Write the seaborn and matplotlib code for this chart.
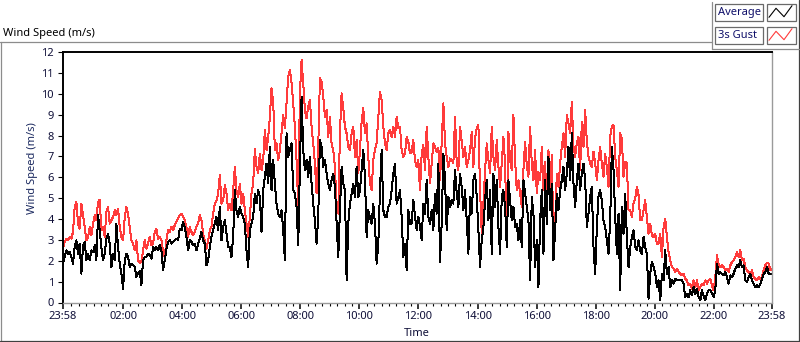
import numpy as np
import matplotlib
matplotlib.use("Agg")
import matplotlib.pyplot as plt
from matplotlib.lines import Line2D
from matplotlib.patches import Rectangle
import seaborn as sns

# ---------------- data (wind speed, m/s) ----------------
# 3 s gust, 23:58 -> ~05:35
gust_a = [2.58, 2.90, 3.06, 2.98, 3.14, 3.06, 3.38, 4.58, 4.82, 3.78,
          3.54, 4.74, 4.18, 3.62, 2.98, 3.14, 3.62, 3.22, 3.78, 4.18,
          3.94, 4.82, 4.93, 3.46, 3.62, 3.14, 4.34, 4.58, 3.78, 3.94,
          4.10, 4.42, 4.18, 4.50, 3.62, 3.14, 2.98, 4.10, 4.58, 4.26,
          3.62, 2.98, 2.82, 2.50, 2.98, 2.02, 1.90, 2.00, 2.50, 2.98,
          2.58, 2.82, 3.14, 2.74, 2.82, 3.38, 3.54, 3.06, 3.14, 2.98,
          2.42, 2.18, 2.98, 3.46, 3.38, 3.62, 3.46, 3.70, 3.86, 4.02,
          4.18, 4.26, 4.10, 3.94, 3.62, 3.14, 3.62, 3.38, 3.22, 3.38,
          3.62, 3.78, 4.18, 3.94, 3.30, 2.98, 2.58, 2.98, 3.46, 3.62,
          4.26, 4.74, 4.90, 5.22, 6.10, 4.74, 4.90, 5.62, 5.22, 4.42]
# 3 s gust, ~05:35 -> ~11:58
gust_b = [4.74, 4.42, 5.38, 6.50, 5.38, 5.06, 5.70, 4.74, 5.22, 4.42,
          3.78, 3.14, 4.10, 5.22, 5.70, 7.34, 6.50, 6.18, 7.14, 6.34,
          6.82, 8.26, 7.30, 7.94, 8.90, 10.26, 9.62, 7.30, 7.62, 6.82,
          7.30, 8.10, 8.98, 8.34, 9.57, 10.82, 11.14, 10.50, 9.54, 8.42,
          6.82, 4.58, 10.02, 11.62, 10.50, 9.22, 8.82, 9.38, 9.70, 8.42,
          7.62, 6.66, 5.22, 7.46, 10.74, 10.58, 9.86, 8.90, 9.22, 7.94,
          8.90, 7.62, 7.30, 6.50, 4.58, 4.26, 8.10, 10.02, 9.30, 8.42,
          8.10, 7.46, 7.30, 8.10, 8.42, 6.98, 7.78, 6.18, 7.30, 8.66,
          9.30, 8.10, 8.58, 6.98, 5.70, 5.38, 6.82, 7.30, 7.62, 8.90,
          10.10, 9.70, 8.42, 7.62, 7.30, 8.10, 8.26, 7.94, 8.42, 7.94,
          8.90, 8.34, 8.42, 7.30, 6.98, 7.14, 7.94, 7.70, 7.14, 7.22,
          7.78, 6.82, 6.50, 6.82]
# 3 s gust, ~12:00 -> ~18:00
gust_c = [5.38, 7.14, 7.54, 6.34, 8.42, 6.98, 5.70, 6.66, 7.62, 7.46,
          7.22, 7.40, 5.86, 7.70, 9.54, 7.62, 6.98, 6.50, 6.90, 6.82,
          6.66, 8.90, 6.66, 6.34, 8.42, 7.70, 6.98, 7.46, 6.50, 6.82,
          7.30, 8.18, 6.50, 7.86, 8.34, 8.50, 5.38, 3.30, 4.74, 6.34,
          7.62, 6.82, 6.18, 8.42, 6.98, 6.34, 7.78, 6.50, 5.54, 6.66,
          7.94, 6.66, 2.98, 8.18, 6.82, 6.34, 8.98, 6.82, 5.38, 5.86,
          5.22, 4.58, 6.34, 7.70, 6.58, 6.02, 8.42, 6.66, 5.86, 7.30,
          5.22, 6.26, 5.86, 7.46, 5.38, 6.74, 4.26, 7.30, 5.38, 7.06,
          2.98, 3.78, 6.18, 5.54, 6.66, 7.46, 8.10, 6.98, 8.98, 8.58,
          8.10, 9.62, 7.46, 6.98, 7.62, 7.94, 6.34, 8.66, 7.46, 9.22,
          7.70, 6.98, 6.66, 6.50, 7.22, 6.66, 5.86, 6.82]
# 3 s gust, ~18:00 -> 23:58
gust_d = [7.46, 6.66, 6.02, 7.14, 6.50, 5.54, 7.94, 8.42, 8.50, 6.98,
          6.34, 5.54, 8.10, 7.86, 6.02, 6.74, 6.66, 4.42, 4.42, 4.10,
          4.74, 4.98, 5.54, 5.14, 3.94, 3.94, 4.42, 4.90, 4.10, 3.30,
          3.78, 3.22, 3.14, 3.30, 2.82, 2.82, 3.30, 2.18, 3.62, 4.02,
          3.14, 2.42, 2.02, 1.70, 1.62, 1.46, 1.62, 1.46, 1.38, 1.30,
          1.38, 1.14, 1.06, 0.82, 0.90, 0.66, 1.06, 0.74, 1.06, 0.58,
          0.74, 0.90, 0.82, 1.06, 0.90, 1.06, 1.14, 0.82, 0.58, 1.22,
          2.26, 1.86, 1.70, 1.78, 1.70, 1.54, 1.62, 1.46, 1.78, 1.94,
          2.02, 2.18, 2.42, 2.18, 2.50, 2.02, 2.10, 1.70, 1.54, 1.46,
          1.38, 1.54, 1.22, 1.14, 1.06, 1.22, 1.14, 1.22, 1.54, 1.78,
          1.90, 1.86, 1.54, 1.60]

# average, same time blocks
avg_a = [1.86, 2.18, 2.50, 2.34, 2.42, 2.18, 1.86, 2.66, 2.98, 2.34,
         2.82, 1.38, 2.74, 2.90, 2.02, 2.34, 2.02, 2.50, 2.42, 2.74,
         2.02, 4.18, 3.46, 2.66, 2.02, 2.34, 3.06, 3.30, 2.82, 1.70,
         2.34, 2.02, 3.78, 2.66, 1.86, 1.38, 0.66, 2.02, 2.34, 2.18,
         1.70, 1.86, 1.78, 1.70, 1.22, 1.38, 1.50, 0.82, 2.02, 2.18,
         2.18, 2.34, 2.26, 2.10, 2.66, 2.50, 2.66, 2.50, 2.74, 2.50,
         1.54, 2.02, 2.58, 2.90, 2.98, 2.82, 2.90, 2.98, 3.06, 2.98,
         3.54, 3.46, 3.86, 3.62, 3.14, 2.50, 2.98, 2.90, 2.74, 2.82,
         2.50, 2.82, 3.06, 3.38, 2.98, 2.82, 1.78, 2.02, 2.66, 3.14,
         3.46, 3.78, 4.10, 3.46, 4.58, 2.98, 3.62, 3.94, 3.30, 2.66]
avg_b = [2.66, 2.18, 3.14, 5.38, 4.42, 4.10, 4.58, 4.26, 4.10, 3.78,
         2.50, 1.70, 3.46, 3.78, 4.10, 5.22, 4.74, 5.38, 5.06, 3.38,
         5.38, 6.02, 6.66, 5.70, 7.46, 5.38, 6.82, 5.70, 4.74, 4.26,
         4.10, 4.42, 3.46, 2.02, 8.10, 6.98, 7.30, 7.62, 5.38, 5.22,
         4.58, 2.74, 6.50, 9.86, 7.30, 6.34, 6.82, 6.02, 6.98, 5.70,
         4.74, 3.94, 2.82, 4.10, 7.78, 7.46, 6.50, 6.82, 6.18, 5.70,
         5.38, 5.86, 6.18, 5.54, 3.90, 2.18, 4.42, 6.50, 5.70, 5.38,
         1.06, 3.78, 4.74, 5.22, 5.70, 5.06, 6.50, 5.06, 5.38, 6.34,
         7.30, 6.02, 3.14, 4.42, 4.10, 3.78, 4.74, 3.78, 1.86, 2.82,
         5.38, 7.30, 4.42, 4.10, 4.10, 4.58, 4.74, 5.38, 6.18, 6.66,
         4.74, 5.06, 5.38, 4.10, 2.18, 2.82, 1.54, 4.42, 3.78, 3.78,
         4.90, 4.10, 3.46, 4.10]
avg_c = [3.62, 2.98, 4.74, 4.26, 5.86, 4.10, 3.78, 4.42, 3.46, 5.22,
         4.26, 6.66, 1.94, 3.78, 7.14, 5.86, 3.46, 5.06, 4.58, 4.90,
         4.74, 6.34, 5.22, 4.58, 6.18, 5.54, 4.42, 5.38, 3.94, 2.34,
         5.06, 4.26, 5.86, 6.18, 5.06, 3.46, 1.70, 2.98, 3.62, 4.90,
         5.86, 3.94, 5.38, 2.34, 6.18, 4.58, 5.86, 3.62, 2.34, 5.06,
         5.38, 4.58, 2.66, 5.86, 4.90, 3.94, 4.58, 3.62, 3.78, 2.98,
         3.94, 2.66, 5.86, 5.22, 4.58, 3.94, 1.06, 5.06, 4.26, 1.70,
         2.98, 0.74, 3.94, 5.38, 2.34, 5.86, 3.78, 6.98, 4.42, 5.70,
         2.02, 3.46, 5.22, 4.42, 5.38, 5.86, 6.50, 5.38, 6.18, 7.46,
         5.86, 8.10, 5.70, 4.58, 5.86, 6.66, 5.38, 6.18, 6.66, 5.86,
         3.62, 4.26, 5.06, 5.54, 2.66, 1.38, 3.62, 5.06]
avg_d = [5.38, 4.90, 3.94, 3.62, 2.98, 2.34, 3.94, 7.46, 6.34, 4.10,
         2.34, 4.26, 0.58, 4.58, 3.30, 5.22, 3.14, 1.70, 2.66, 3.14,
         3.46, 2.66, 2.50, 2.98, 2.50, 2.34, 3.14, 2.66, 2.34, 0.18,
         1.38, 1.94, 1.70, 1.38, 0.74, 1.06, 0.10, 1.38, 1.06, 2.50,
         1.38, 1.70, 0.74, 1.06, 0.90, 1.14, 1.06, 1.06, 1.06, 1.06,
         0.90, 0.26, 0.42, 0.26, 0.58, 0.34, 0.74, 0.42, 0.66, 0.26,
         0.10, 0.58, 0.34, 0.10, 0.42, 0.58, 0.58, 0.42, 0.26, 0.58,
         1.86, 1.38, 1.46, 1.38, 1.30, 1.46, 1.22, 0.90, 1.30, 1.22,
         1.38, 1.62, 1.78, 1.70, 2.02, 1.70, 1.78, 1.06, 0.98, 1.22,
         1.38, 1.06, 0.90, 0.74, 0.82, 0.74, 0.90, 1.14, 1.38, 1.46,
         1.70, 1.38, 1.38, 1.38]

# axis ticks (minutes after the 23:58 start)
tick_minutes = [0, 122, 242, 362, 482, 602, 722, 842, 962, 1082, 1202, 1322, 1440]
tick_labels = ["23:58", "02:00", "04:00", "06:00", "08:00", "10:00", "12:00",
               "14:00", "16:00", "18:00", "20:00", "22:00", "23:58"]
y_ticks = list(range(0, 13))
series_names = ["Average", "3s Gust"]

# ---------------- figure ----------------
sns.set_style("white")
plt.rcParams['font.family'] = ['Noto Sans', 'DejaVu Sans']

W, H = 800, 342
fig = plt.figure(figsize=(W / 100, H / 100), dpi=100)
fig.patch.set_facecolor("white")


def fx(px):
    return px / W


def fy(py):
    return 1 - py / H


x0, x1, y_top, y_bot = 63, 772, 52, 302.5
ax = fig.add_axes([fx(x0), fy(y_bot), (x1 - x0) / W, (y_bot - y_top) / H])

gust = np.array(gust_a + gust_b + gust_c + gust_d)
avg = np.array(avg_a + avg_b + avg_c + avg_d)
t_gust = np.linspace(0, 1440, len(gust))
t_avg = np.linspace(0, 1440, len(avg))

RED = "#ff3b3b"
sns.lineplot(x=t_gust, y=gust, color=RED, lw=0.72, ax=ax, antialiased=False,
             estimator=None, sort=False, legend=False)
sns.lineplot(x=t_avg, y=avg, color="black", lw=0.72, ax=ax, antialiased=False,
             estimator=None, sort=False, legend=False)

ax.set_xlim(0, 1440)
ax.set_ylim(0, 12)
ax.set_xticks(tick_minutes)
ax.set_xticklabels(tick_labels)
ax.set_xticks(np.arange(17, 1440, 15), minor=True)
ax.set_yticks(y_ticks)
ax.set_yticklabels([str(v) for v in y_ticks])

TXT = "#0f0f38"
ax.tick_params(axis="x", which="major", bottom=True, direction="out",
               length=4.2, width=1.1, pad=2.0, labelsize=8, color="black",
               labelcolor=TXT)
ax.tick_params(axis="x", which="minor", bottom=True, direction="out",
               length=2.2, width=0.8, color="black")
ax.tick_params(axis="y", which="major", left=True, direction="out",
               length=3.6, width=0.8, pad=3.0, labelsize=8, color="black",
               labelcolor=TXT)

for side, col, lw in [("top", "black", 1.4), ("left", "black", 1.4),
                      ("right", "#9a9a9a", 1.0), ("bottom", "#9a9a9a", 1.0)]:
    ax.spines[side].set_visible(True)
    ax.spines[side].set_color(col)
    ax.spines[side].set_linewidth(lw)
ax.grid(False)

ax.set_ylabel("Wind Speed (m/s)", fontsize=8, color="#1c2a60")
ax.yaxis.set_label_coords((38 - x0) / (x1 - x0), (y_bot - 168.5) / (y_bot - y_top))
ax.set_xlabel("Time", fontsize=8, color=TXT)
ax.xaxis.set_label_coords((416.7 - x0) / (x1 - x0), (y_bot - 328.5) / (y_bot - y_top))
ax.set_title("Wind Speed (m/s)", loc="left", fontsize=8, color="black",
             x=(3 - x0) / (x1 - x0), y=(y_bot - 36) / (y_bot - y_top), pad=0)

# ---------------- panel frame (LabVIEW look) ----------------
GRAY = "#8c8c8c"
DARK = "#404040"
frame = [((0, 711.7), (42, 42), GRAY), ((0.5, 0.5), (42, 341), GRAY),
         ((0, 799), (340.5, 340.5), DARK), ((798.5, 798.5), (0, 341), DARK),
         ((711.7, 711.7), (2, 49), GRAY), ((711.7, 799), (49, 49), GRAY)]
for xs, ys, c in frame:
    fig.add_artist(Line2D([fx(v) for v in xs], [fy(v) for v in ys],
                          color=c, lw=0.9, transform=fig.transFigure))

# ---------------- legend ----------------
legend_rows = [(series_names[0], "black", 4), (series_names[1], RED, 27)]
for name, col, top in legend_rows:
    for bx0, bx1 in [(715, 763), (767, 796)]:
        fig.add_artist(Rectangle((fx(bx0), fy(top + 17)), (bx1 - bx0) / W, 17 / H,
                                 transform=fig.transFigure, facecolor="white",
                                 edgecolor="#6a6a6a", lw=0.9))
    fig.text(fx(717.5), fy(top + 8.8), name, fontsize=8, color="#10106a",
             ha="left", va="center")
    zx = [769, 776, 784, 792]
    zy = [top + 13.3, top + 4.3, top + 12.7, top + 1.7]
    fig.add_artist(Line2D([fx(v) for v in zx], [fy(v) for v in zy], color=col,
                          lw=0.8, transform=fig.transFigure))

fig.savefig("out.png", dpi=100)
